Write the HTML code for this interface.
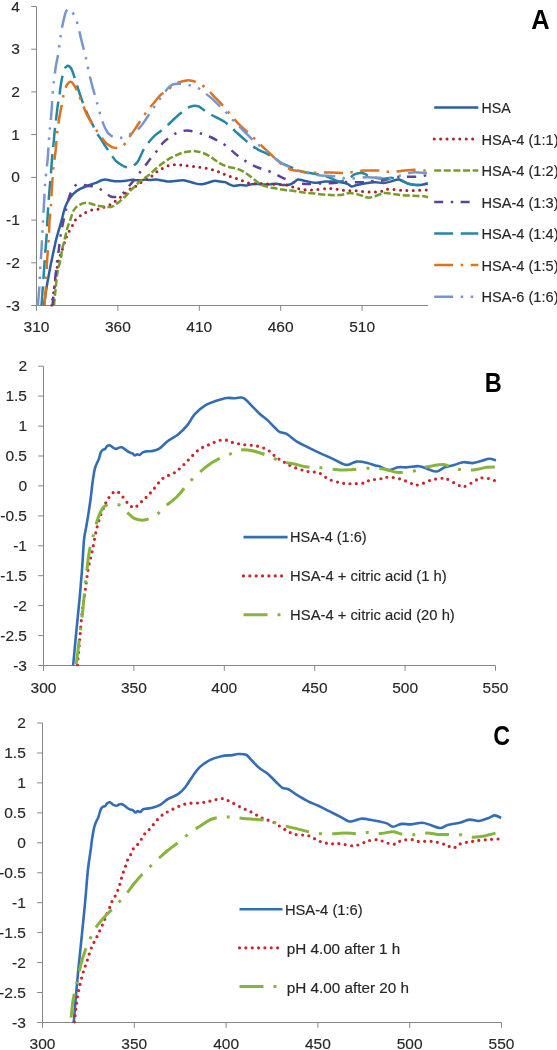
<!DOCTYPE html>
<html><head><meta charset="utf-8"><style>
html,body{margin:0;padding:0;background:#fff;width:557px;height:1050px;overflow:hidden}
svg{display:block;will-change:transform;font-family:"Liberation Sans",sans-serif}
</style></head><body>
<svg width="557" height="1050" viewBox="0 0 557 1050">
<defs>
<clipPath id="cA"><rect x="30" y="0" width="400" height="306.5"/></clipPath>
<clipPath id="cB"><rect x="40" y="360" width="460" height="306.5"/></clipPath>
<clipPath id="cC"><rect x="40" y="715" width="465" height="308.5"/></clipPath>
</defs>
<path d="M36.5 6.5 V305.5 H428.0" fill="none" stroke="#878787" stroke-width="1"/>
<line x1="31.2" y1="6.5" x2="36.5" y2="6.5" stroke="#878787" stroke-width="1"/>
<line x1="31.2" y1="49.2" x2="36.5" y2="49.2" stroke="#878787" stroke-width="1"/>
<line x1="31.2" y1="91.9" x2="36.5" y2="91.9" stroke="#878787" stroke-width="1"/>
<line x1="31.2" y1="134.6" x2="36.5" y2="134.6" stroke="#878787" stroke-width="1"/>
<line x1="31.2" y1="177.4" x2="36.5" y2="177.4" stroke="#878787" stroke-width="1"/>
<line x1="31.2" y1="220.1" x2="36.5" y2="220.1" stroke="#878787" stroke-width="1"/>
<line x1="31.2" y1="262.8" x2="36.5" y2="262.8" stroke="#878787" stroke-width="1"/>
<line x1="31.2" y1="305.5" x2="36.5" y2="305.5" stroke="#878787" stroke-width="1"/>
<line x1="36.5" y1="305.5" x2="36.5" y2="310.8" stroke="#878787" stroke-width="1"/>
<line x1="117.9" y1="305.5" x2="117.9" y2="310.8" stroke="#878787" stroke-width="1"/>
<line x1="199.3" y1="305.5" x2="199.3" y2="310.8" stroke="#878787" stroke-width="1"/>
<line x1="280.7" y1="305.5" x2="280.7" y2="310.8" stroke="#878787" stroke-width="1"/>
<line x1="362.1" y1="305.5" x2="362.1" y2="310.8" stroke="#878787" stroke-width="1"/>
<text x="19.9" y="11.5" text-anchor="end" font-size="15.5" fill="#262626" stroke="#262626" stroke-width="0.15">4</text>
<text x="19.9" y="54.2" text-anchor="end" font-size="15.5" fill="#262626" stroke="#262626" stroke-width="0.15">3</text>
<text x="19.9" y="96.9" text-anchor="end" font-size="15.5" fill="#262626" stroke="#262626" stroke-width="0.15">2</text>
<text x="19.9" y="139.6" text-anchor="end" font-size="15.5" fill="#262626" stroke="#262626" stroke-width="0.15">1</text>
<text x="19.9" y="182.4" text-anchor="end" font-size="15.5" fill="#262626" stroke="#262626" stroke-width="0.15">0</text>
<text x="19.9" y="225.1" text-anchor="end" font-size="15.5" fill="#262626" stroke="#262626" stroke-width="0.15">-1</text>
<text x="19.9" y="267.8" text-anchor="end" font-size="15.5" fill="#262626" stroke="#262626" stroke-width="0.15">-2</text>
<text x="19.9" y="310.5" text-anchor="end" font-size="15.5" fill="#262626" stroke="#262626" stroke-width="0.15">-3</text>
<text x="36.5" y="331.5" text-anchor="middle" font-size="15.5" fill="#262626" stroke="#262626" stroke-width="0.15">310</text>
<text x="117.9" y="331.5" text-anchor="middle" font-size="15.5" fill="#262626" stroke="#262626" stroke-width="0.15">360</text>
<text x="199.3" y="331.5" text-anchor="middle" font-size="15.5" fill="#262626" stroke="#262626" stroke-width="0.15">410</text>
<text x="280.7" y="331.5" text-anchor="middle" font-size="15.5" fill="#262626" stroke="#262626" stroke-width="0.15">460</text>
<text x="362.1" y="331.5" text-anchor="middle" font-size="15.5" fill="#262626" stroke="#262626" stroke-width="0.15">510</text>
<path d="M43.5 366.2 V665.5 H495.5" fill="none" stroke="#878787" stroke-width="1"/>
<line x1="38.2" y1="366.2" x2="43.5" y2="366.2" stroke="#878787" stroke-width="1"/>
<line x1="38.2" y1="396.1" x2="43.5" y2="396.1" stroke="#878787" stroke-width="1"/>
<line x1="38.2" y1="426.1" x2="43.5" y2="426.1" stroke="#878787" stroke-width="1"/>
<line x1="38.2" y1="456.0" x2="43.5" y2="456.0" stroke="#878787" stroke-width="1"/>
<line x1="38.2" y1="485.9" x2="43.5" y2="485.9" stroke="#878787" stroke-width="1"/>
<line x1="38.2" y1="515.9" x2="43.5" y2="515.9" stroke="#878787" stroke-width="1"/>
<line x1="38.2" y1="545.8" x2="43.5" y2="545.8" stroke="#878787" stroke-width="1"/>
<line x1="38.2" y1="575.7" x2="43.5" y2="575.7" stroke="#878787" stroke-width="1"/>
<line x1="38.2" y1="605.6" x2="43.5" y2="605.6" stroke="#878787" stroke-width="1"/>
<line x1="38.2" y1="635.6" x2="43.5" y2="635.6" stroke="#878787" stroke-width="1"/>
<line x1="38.2" y1="665.5" x2="43.5" y2="665.5" stroke="#878787" stroke-width="1"/>
<line x1="43.5" y1="665.5" x2="43.5" y2="670.8" stroke="#878787" stroke-width="1"/>
<line x1="133.9" y1="665.5" x2="133.9" y2="670.8" stroke="#878787" stroke-width="1"/>
<line x1="224.3" y1="665.5" x2="224.3" y2="670.8" stroke="#878787" stroke-width="1"/>
<line x1="314.7" y1="665.5" x2="314.7" y2="670.8" stroke="#878787" stroke-width="1"/>
<line x1="405.1" y1="665.5" x2="405.1" y2="670.8" stroke="#878787" stroke-width="1"/>
<line x1="495.5" y1="665.5" x2="495.5" y2="670.8" stroke="#878787" stroke-width="1"/>
<text x="27.0" y="371.2" text-anchor="end" font-size="15.5" fill="#262626" stroke="#262626" stroke-width="0.15">2</text>
<text x="27.0" y="401.1" text-anchor="end" font-size="15.5" fill="#262626" stroke="#262626" stroke-width="0.15">1.5</text>
<text x="27.0" y="431.1" text-anchor="end" font-size="15.5" fill="#262626" stroke="#262626" stroke-width="0.15">1</text>
<text x="27.0" y="461.0" text-anchor="end" font-size="15.5" fill="#262626" stroke="#262626" stroke-width="0.15">0.5</text>
<text x="27.0" y="490.9" text-anchor="end" font-size="15.5" fill="#262626" stroke="#262626" stroke-width="0.15">0</text>
<text x="27.0" y="520.9" text-anchor="end" font-size="15.5" fill="#262626" stroke="#262626" stroke-width="0.15">-0.5</text>
<text x="27.0" y="550.8" text-anchor="end" font-size="15.5" fill="#262626" stroke="#262626" stroke-width="0.15">-1</text>
<text x="27.0" y="580.7" text-anchor="end" font-size="15.5" fill="#262626" stroke="#262626" stroke-width="0.15">-1.5</text>
<text x="27.0" y="610.6" text-anchor="end" font-size="15.5" fill="#262626" stroke="#262626" stroke-width="0.15">-2</text>
<text x="27.0" y="640.6" text-anchor="end" font-size="15.5" fill="#262626" stroke="#262626" stroke-width="0.15">-2.5</text>
<text x="27.0" y="670.5" text-anchor="end" font-size="15.5" fill="#262626" stroke="#262626" stroke-width="0.15">-3</text>
<text x="43.5" y="692.8" text-anchor="middle" font-size="15.5" fill="#262626" stroke="#262626" stroke-width="0.15">300</text>
<text x="133.9" y="692.8" text-anchor="middle" font-size="15.5" fill="#262626" stroke="#262626" stroke-width="0.15">350</text>
<text x="224.3" y="692.8" text-anchor="middle" font-size="15.5" fill="#262626" stroke="#262626" stroke-width="0.15">400</text>
<text x="314.7" y="692.8" text-anchor="middle" font-size="15.5" fill="#262626" stroke="#262626" stroke-width="0.15">450</text>
<text x="405.1" y="692.8" text-anchor="middle" font-size="15.5" fill="#262626" stroke="#262626" stroke-width="0.15">500</text>
<text x="495.5" y="692.8" text-anchor="middle" font-size="15.5" fill="#262626" stroke="#262626" stroke-width="0.15">550</text>
<path d="M42.5 723.0 V1022.5 H501.5" fill="none" stroke="#878787" stroke-width="1"/>
<line x1="37.2" y1="723.0" x2="42.5" y2="723.0" stroke="#878787" stroke-width="1"/>
<line x1="37.2" y1="753.0" x2="42.5" y2="753.0" stroke="#878787" stroke-width="1"/>
<line x1="37.2" y1="782.9" x2="42.5" y2="782.9" stroke="#878787" stroke-width="1"/>
<line x1="37.2" y1="812.9" x2="42.5" y2="812.9" stroke="#878787" stroke-width="1"/>
<line x1="37.2" y1="842.8" x2="42.5" y2="842.8" stroke="#878787" stroke-width="1"/>
<line x1="37.2" y1="872.8" x2="42.5" y2="872.8" stroke="#878787" stroke-width="1"/>
<line x1="37.2" y1="902.7" x2="42.5" y2="902.7" stroke="#878787" stroke-width="1"/>
<line x1="37.2" y1="932.6" x2="42.5" y2="932.6" stroke="#878787" stroke-width="1"/>
<line x1="37.2" y1="962.6" x2="42.5" y2="962.6" stroke="#878787" stroke-width="1"/>
<line x1="37.2" y1="992.5" x2="42.5" y2="992.5" stroke="#878787" stroke-width="1"/>
<line x1="37.2" y1="1022.5" x2="42.5" y2="1022.5" stroke="#878787" stroke-width="1"/>
<line x1="42.5" y1="1022.5" x2="42.5" y2="1027.8" stroke="#878787" stroke-width="1"/>
<line x1="134.3" y1="1022.5" x2="134.3" y2="1027.8" stroke="#878787" stroke-width="1"/>
<line x1="226.1" y1="1022.5" x2="226.1" y2="1027.8" stroke="#878787" stroke-width="1"/>
<line x1="317.9" y1="1022.5" x2="317.9" y2="1027.8" stroke="#878787" stroke-width="1"/>
<line x1="409.7" y1="1022.5" x2="409.7" y2="1027.8" stroke="#878787" stroke-width="1"/>
<line x1="501.5" y1="1022.5" x2="501.5" y2="1027.8" stroke="#878787" stroke-width="1"/>
<text x="25.8" y="728.0" text-anchor="end" font-size="15.5" fill="#262626" stroke="#262626" stroke-width="0.15">2</text>
<text x="25.8" y="758.0" text-anchor="end" font-size="15.5" fill="#262626" stroke="#262626" stroke-width="0.15">1.5</text>
<text x="25.8" y="787.9" text-anchor="end" font-size="15.5" fill="#262626" stroke="#262626" stroke-width="0.15">1</text>
<text x="25.8" y="817.9" text-anchor="end" font-size="15.5" fill="#262626" stroke="#262626" stroke-width="0.15">0.5</text>
<text x="25.8" y="847.8" text-anchor="end" font-size="15.5" fill="#262626" stroke="#262626" stroke-width="0.15">0</text>
<text x="25.8" y="877.8" text-anchor="end" font-size="15.5" fill="#262626" stroke="#262626" stroke-width="0.15">-0.5</text>
<text x="25.8" y="907.7" text-anchor="end" font-size="15.5" fill="#262626" stroke="#262626" stroke-width="0.15">-1</text>
<text x="25.8" y="937.6" text-anchor="end" font-size="15.5" fill="#262626" stroke="#262626" stroke-width="0.15">-1.5</text>
<text x="25.8" y="967.6" text-anchor="end" font-size="15.5" fill="#262626" stroke="#262626" stroke-width="0.15">-2</text>
<text x="25.8" y="997.5" text-anchor="end" font-size="15.5" fill="#262626" stroke="#262626" stroke-width="0.15">-2.5</text>
<text x="25.8" y="1027.5" text-anchor="end" font-size="15.5" fill="#262626" stroke="#262626" stroke-width="0.15">-3</text>
<text x="42.5" y="1049.2" text-anchor="middle" font-size="15.5" fill="#262626" stroke="#262626" stroke-width="0.15">300</text>
<text x="134.3" y="1049.2" text-anchor="middle" font-size="15.5" fill="#262626" stroke="#262626" stroke-width="0.15">350</text>
<text x="226.1" y="1049.2" text-anchor="middle" font-size="15.5" fill="#262626" stroke="#262626" stroke-width="0.15">400</text>
<text x="317.9" y="1049.2" text-anchor="middle" font-size="15.5" fill="#262626" stroke="#262626" stroke-width="0.15">450</text>
<text x="409.7" y="1049.2" text-anchor="middle" font-size="15.5" fill="#262626" stroke="#262626" stroke-width="0.15">500</text>
<text x="501.5" y="1049.2" text-anchor="middle" font-size="15.5" fill="#262626" stroke="#262626" stroke-width="0.15">550</text>
<path d="M43.9 305.5 C44.4 302.1 45.9 291.6 47.0 285.0 C48.1 278.4 49.7 270.4 50.5 266.0 C51.3 261.6 51.5 261.4 52.0 258.8 C52.5 256.2 53.1 253.3 53.8 250.2 C54.5 247.1 55.2 243.4 56.0 240.1 C56.8 236.8 57.8 233.4 58.8 230.1 C59.8 226.8 60.7 223.7 61.7 220.0 C62.7 216.3 63.8 211.1 65.0 207.7 C66.2 204.3 67.3 202.0 68.8 199.6 C70.3 197.2 71.9 195.1 73.8 193.3 C75.7 191.5 77.8 190.2 80.1 188.9 C82.4 187.6 85.1 186.6 87.6 185.7 C90.1 184.8 92.9 184.1 95.2 183.2 C97.5 182.3 99.8 180.9 101.5 180.3 C103.2 179.7 103.7 179.5 105.2 179.5 C106.7 179.5 108.4 180.1 110.3 180.4 C112.2 180.7 114.5 181.2 116.6 181.3 C118.7 181.4 121.0 181.2 122.8 181.1 C124.6 181.0 125.9 180.7 127.4 180.5 C128.9 180.3 130.4 179.8 131.9 179.7 C133.4 179.6 134.9 180.1 136.4 180.2 C137.9 180.3 139.4 180.3 140.9 180.2 C142.4 180.1 143.9 179.6 145.4 179.6 C146.9 179.6 148.2 180.1 150.0 180.1 C151.8 180.1 154.2 179.5 156.3 179.6 C158.4 179.7 160.5 180.2 162.6 180.5 C164.7 180.8 166.8 181.4 168.9 181.5 C171.0 181.6 172.8 181.1 175.1 180.9 C177.4 180.7 180.4 180.2 182.7 180.3 C185.0 180.4 186.9 181.0 189.0 181.5 C191.1 182.0 193.1 182.9 195.2 183.4 C197.3 183.9 199.4 184.4 201.5 184.3 C203.6 184.2 205.7 183.4 207.8 182.8 C209.9 182.2 212.1 181.1 214.1 180.9 C216.1 180.7 218.2 181.3 220.0 181.5 C221.8 181.7 223.3 181.6 225.0 182.1 C226.7 182.6 228.6 184.0 230.1 184.6 C231.6 185.2 232.1 185.8 233.8 185.9 C235.5 186.0 238.0 185.1 240.1 185.0 C242.2 184.9 244.5 185.6 246.4 185.5 C248.3 185.4 249.5 184.4 251.4 184.2 C253.3 183.9 255.6 183.9 257.7 184.0 C259.8 184.1 261.9 184.6 264.0 184.6 C266.1 184.6 268.2 184.3 270.3 184.2 C272.4 184.0 274.5 183.6 276.6 183.7 C278.7 183.8 280.6 184.9 282.8 185.0 C285.0 185.1 288.1 185.0 290.0 184.5 C291.9 184.0 293.1 182.8 294.5 182.0 C295.9 181.2 296.4 179.7 298.2 179.5 C300.0 179.3 302.7 180.4 305.4 180.9 C308.1 181.4 311.4 182.5 314.4 182.7 C317.4 182.8 320.8 182.0 323.4 181.8 C326.0 181.6 327.1 181.3 330.0 181.4 C332.9 181.5 337.8 181.9 340.8 182.3 C343.8 182.8 346.2 183.4 348.0 184.1 C349.8 184.8 350.0 186.3 351.5 186.5 C353.0 186.7 354.5 185.6 356.9 185.0 C359.3 184.4 362.9 183.6 365.9 183.2 C368.9 182.8 371.9 182.4 374.9 182.3 C377.9 182.2 381.2 183.1 383.9 182.9 C386.6 182.8 388.6 182.0 391.0 181.4 C393.4 180.8 396.1 179.6 398.2 179.6 C400.3 179.6 401.8 180.7 403.6 181.4 C405.4 182.2 406.9 183.5 409.0 184.1 C411.1 184.7 413.8 184.9 416.2 185.0 C418.6 185.1 421.4 184.8 423.4 184.5 C425.4 184.2 427.2 183.4 428.0 183.2" fill="none" stroke="#2A5FA0" stroke-width="2.5" stroke-linecap="butt" stroke-linejoin="round" clip-path="url(#cA)"/>
<path d="M51.8 305.5 C52.2 302.9 53.2 295.6 54.0 290.0 C54.8 284.4 55.7 277.1 56.5 272.0 C57.3 266.9 58.0 262.2 58.8 259.1 C59.5 256.0 60.0 256.3 61.0 253.4 C62.0 250.5 63.9 244.5 64.9 241.5 C65.9 238.5 66.2 237.4 67.1 235.4 C67.9 233.4 69.0 231.5 70.0 229.7 C71.0 227.8 72.2 226.1 73.2 224.3 C74.2 222.5 74.8 220.6 76.3 219.0 C77.8 217.4 80.2 215.8 82.0 214.6 C83.8 213.4 85.1 212.6 87.0 211.8 C88.9 211.0 91.2 210.1 93.3 209.6 C95.4 209.1 97.6 209.5 99.6 209.0 C101.6 208.5 103.3 207.4 105.3 206.6 C107.2 205.8 109.5 205.0 111.3 204.0 C113.1 203.0 114.5 201.7 116.2 200.4 C117.9 199.1 119.9 197.8 121.6 196.4 C123.3 195.1 124.8 193.7 126.5 192.3 C128.2 190.9 129.8 188.9 131.5 187.8 C133.2 186.7 135.1 186.7 136.9 185.6 C138.7 184.5 140.4 182.7 142.3 181.5 C144.2 180.3 146.3 179.5 148.1 178.4 C149.9 177.3 151.4 176.5 153.1 175.2 C154.8 173.9 156.4 172.1 158.2 170.8 C160.0 169.6 161.9 168.6 163.8 167.7 C165.7 166.8 167.5 165.9 169.5 165.4 C171.5 164.9 173.7 164.6 175.8 164.6 C177.9 164.6 179.9 165.0 182.0 165.2 C184.1 165.4 186.1 165.6 188.3 165.8 C190.5 166.1 193.0 166.4 195.2 166.7 C197.4 167.0 199.4 167.2 201.5 167.5 C203.6 167.8 205.7 168.2 207.8 168.7 C209.9 169.1 212.1 169.6 214.1 170.2 C216.1 170.8 218.1 171.6 220.0 172.4 C221.9 173.2 223.7 174.1 225.7 174.9 C227.7 175.7 229.8 176.4 231.9 177.1 C234.0 177.8 236.2 178.5 238.2 179.2 C240.2 179.9 241.9 180.5 243.9 181.2 C245.9 181.9 248.1 183.0 250.2 183.4 C252.3 183.8 254.3 183.7 256.4 183.7 C258.5 183.7 260.6 183.3 262.7 183.4 C264.8 183.5 266.9 183.9 269.0 184.0 C271.1 184.1 273.1 184.1 275.3 184.2 C277.5 184.3 280.0 184.4 282.2 184.6 C284.4 184.8 286.5 184.7 288.5 185.2 C290.5 185.7 292.1 186.9 294.0 187.5 C295.9 188.1 297.2 188.6 300.0 189.0 C302.8 189.4 305.8 190.0 310.8 189.9 C315.8 189.8 324.4 188.5 330.0 188.6 C335.6 188.7 339.9 190.0 344.4 190.4 C348.9 190.8 352.4 190.6 356.9 190.9 C361.4 191.2 367.1 192.1 371.3 192.2 C375.5 192.3 379.1 191.8 382.1 191.3 C385.1 190.8 385.9 189.2 389.2 189.1 C392.5 188.9 397.6 190.2 401.8 190.4 C406.0 190.6 410.0 190.5 414.4 190.4 C418.8 190.3 425.7 190.0 428.0 189.9" fill="none" stroke="#A82428" stroke-width="3.0" stroke-linecap="round" stroke-linejoin="round" stroke-dasharray="0 6.4" clip-path="url(#cA)"/>
<path d="M54.0 305.5 C54.2 302.9 54.9 295.6 55.5 290.0 C56.1 284.4 56.6 277.3 57.5 272.0 C58.4 266.7 60.3 261.4 61.0 258.0 C61.7 254.6 61.4 253.5 61.7 251.6 C62.0 249.7 62.4 248.3 62.8 246.6 C63.2 244.9 63.9 242.9 64.2 241.5 C64.6 240.1 64.5 239.6 64.9 238.0 C65.3 236.4 66.0 233.9 66.4 232.2 C66.8 230.5 66.8 229.8 67.4 227.9 C68.0 226.0 68.9 223.6 70.0 220.7 C71.1 217.8 72.3 212.8 73.8 210.2 C75.3 207.6 76.8 206.4 78.9 205.2 C81.0 203.9 83.9 202.8 86.4 202.7 C88.9 202.6 91.8 204.0 93.9 204.6 C96.0 205.2 97.2 205.7 99.0 206.0 C100.8 206.3 103.0 206.5 105.0 206.7 C107.0 206.9 109.6 207.3 111.3 207.0 C113.0 206.7 113.6 205.8 114.9 204.9 C116.2 204.0 118.1 202.8 119.4 201.7 C120.7 200.6 121.3 199.7 122.5 198.6 C123.7 197.5 125.2 196.6 126.5 195.3 C127.8 194.0 129.0 191.9 130.0 190.8 C131.0 189.7 131.5 189.5 132.4 188.7 C133.3 187.9 134.4 187.1 135.5 186.0 C136.6 184.9 137.9 183.1 139.1 182.0 C140.3 180.9 141.3 180.3 142.7 179.3 C144.0 178.3 145.8 177.2 147.2 176.2 C148.5 175.2 149.3 174.8 150.8 173.5 C152.3 172.2 154.3 170.0 156.3 168.3 C158.3 166.6 160.5 164.9 162.6 163.3 C164.7 161.7 166.8 160.2 168.9 158.9 C171.0 157.7 172.8 156.9 175.1 155.8 C177.4 154.8 180.0 153.4 182.7 152.6 C185.4 151.8 189.2 151.3 191.5 151.1 C193.8 150.9 194.6 151.1 196.5 151.4 C198.4 151.7 200.7 152.2 202.8 152.9 C204.9 153.6 207.0 154.6 209.1 155.8 C211.2 157.0 213.6 158.9 215.4 160.2 C217.2 161.4 218.0 162.2 220.0 163.3 C222.0 164.4 224.6 165.7 227.5 166.6 C230.4 167.5 234.7 167.9 237.6 168.9 C240.5 169.9 242.6 171.1 245.1 172.7 C247.6 174.3 250.4 176.5 252.7 178.3 C255.0 180.1 257.1 182.1 259.0 183.4 C260.9 184.7 261.9 185.2 264.0 185.9 C266.1 186.6 269.0 187.3 271.5 187.8 C274.0 188.3 276.6 188.6 279.1 189.0 C281.6 189.4 284.6 190.1 286.6 190.3 C288.6 190.6 288.5 190.2 291.0 190.5 C293.5 190.8 297.9 191.7 301.8 192.2 C305.7 192.7 309.7 193.0 314.4 193.5 C319.1 194.0 325.6 194.8 330.0 195.0 C334.4 195.2 337.5 195.2 340.8 194.9 C344.1 194.6 346.4 193.1 349.7 193.1 C353.0 193.1 357.5 194.4 360.5 195.2 C363.5 195.9 365.3 197.4 367.7 197.6 C370.1 197.8 372.2 197.1 374.9 196.3 C377.6 195.6 380.9 193.5 383.9 193.1 C386.9 192.7 389.8 193.7 392.8 194.0 C395.8 194.3 398.5 194.9 401.8 195.2 C405.1 195.5 409.0 195.6 412.6 195.8 C416.2 196.0 420.8 196.1 423.4 196.3 C426.0 196.6 427.2 197.1 428.0 197.3" fill="none" stroke="#789B2A" stroke-width="2.5" stroke-linecap="butt" stroke-linejoin="round" stroke-dasharray="7 2.6" clip-path="url(#cA)"/>
<path d="M52.5 305.5 C52.8 302.1 53.7 292.8 54.5 285.0 C55.3 277.2 56.7 264.9 57.4 259.0 C58.1 253.1 58.4 252.8 58.8 249.8 C59.2 246.8 59.5 243.6 59.9 240.8 C60.3 238.1 60.5 236.1 61.0 233.3 C61.5 230.5 62.0 227.6 62.8 224.0 C63.5 220.4 64.5 216.3 65.5 212.0 C66.5 207.7 67.6 202.2 68.8 198.3 C70.0 194.5 71.2 191.2 72.6 188.9 C74.0 186.6 75.4 185.2 77.0 184.5 C78.6 183.8 80.3 184.4 82.0 184.6 C83.7 184.8 84.6 185.3 87.0 185.7 C89.4 186.1 93.8 186.2 96.4 187.0 C99.0 187.8 100.4 189.2 102.7 190.8 C105.0 192.4 108.4 195.3 110.4 196.3 C112.5 197.3 113.5 197.0 115.0 197.0 C116.5 197.0 117.7 197.4 119.4 196.4 C121.1 195.4 123.8 192.5 125.2 191.0 C126.6 189.5 127.0 188.7 128.0 187.5 C129.0 186.3 129.5 185.6 131.0 183.8 C132.5 182.0 135.2 178.8 136.9 176.6 C138.6 174.3 139.7 172.6 141.4 170.3 C143.1 168.1 145.3 165.5 147.2 163.1 C149.0 160.7 150.7 158.1 152.5 155.8 C154.3 153.5 156.4 151.7 158.2 149.5 C160.0 147.3 161.2 144.7 163.2 142.6 C165.2 140.5 167.7 138.6 170.1 136.9 C172.5 135.2 174.9 133.6 177.6 132.5 C180.3 131.4 183.5 130.7 186.4 130.6 C189.3 130.5 192.4 131.3 195.2 131.9 C198.0 132.5 200.7 133.5 203.4 134.4 C206.1 135.3 208.8 136.2 211.6 137.5 C214.4 138.8 217.8 140.9 220.0 142.2 C222.2 143.4 222.8 143.4 225.0 145.0 C227.2 146.6 230.7 149.8 233.2 151.9 C235.7 154.0 237.8 155.9 240.1 157.6 C242.4 159.3 244.5 160.5 247.0 162.0 C249.5 163.5 252.5 165.2 255.2 166.4 C257.9 167.7 260.8 168.6 263.4 169.5 C266.0 170.4 268.2 170.8 270.9 172.0 C273.6 173.2 276.9 175.0 279.7 176.4 C282.5 177.8 285.3 179.1 287.9 180.2 C290.4 181.3 292.1 182.2 295.0 182.8 C297.9 183.4 301.6 183.9 305.4 184.0 C309.2 184.1 313.9 183.7 318.0 183.6 C322.1 183.5 326.5 183.3 330.0 183.2 C333.5 183.0 336.3 182.9 339.0 182.7 C341.7 182.5 341.7 182.1 346.2 182.0 C350.7 181.9 361.4 182.5 365.9 182.3 C370.4 182.1 370.4 181.2 373.1 180.9 C375.8 180.6 378.8 181.0 382.1 180.5 C385.4 180.0 389.8 178.4 392.8 177.8 C395.8 177.2 395.8 177.1 400.0 176.9 C404.2 176.7 413.3 176.9 418.0 176.6 C422.7 176.3 426.3 175.3 428.0 175.0" fill="none" stroke="#5F4196" stroke-width="2.5" stroke-linecap="butt" stroke-linejoin="round" stroke-dasharray="9 7.6 2.4 7.4" clip-path="url(#cA)"/>
<path d="M41.5 305.5 C41.8 302.1 42.5 291.6 43.0 285.0 C43.5 278.4 43.9 271.5 44.3 266.2 C44.7 260.9 44.8 258.4 45.2 253.4 C45.6 248.4 46.3 240.6 46.6 236.2 C46.9 231.8 46.8 231.6 47.0 227.2 C47.2 222.8 47.6 216.4 48.0 210.0 C48.4 203.6 49.1 194.7 49.6 188.7 C50.1 182.7 50.5 179.1 50.9 173.9 C51.3 168.8 51.7 162.4 52.1 157.8 C52.5 153.2 52.9 150.9 53.3 146.6 C53.7 142.3 54.2 135.9 54.6 131.8 C55.0 127.7 55.3 126.2 55.8 121.9 C56.3 117.6 57.1 110.3 57.7 105.8 C58.3 101.3 59.0 98.2 59.5 94.7 C60.0 91.2 60.4 87.6 60.8 85.0 C61.2 82.4 61.3 81.7 61.8 79.2 C62.3 76.7 63.3 71.8 64.0 69.8 C64.7 67.8 65.3 67.7 66.0 67.0 C66.7 66.3 67.2 65.5 68.1 65.8 C69.0 66.0 70.2 66.9 71.2 68.5 C72.2 70.1 73.0 73.0 73.9 75.6 C74.8 78.2 75.7 81.4 76.6 84.2 C77.5 87.0 78.4 89.8 79.3 92.5 C80.2 95.2 81.0 97.5 82.0 100.3 C83.0 103.1 84.5 107.2 85.4 109.4 C86.3 111.6 86.1 111.2 87.2 113.5 C88.3 115.8 90.2 119.8 91.8 123.0 C93.4 126.2 95.1 130.2 96.6 132.8 C98.1 135.4 99.0 136.2 100.6 138.6 C102.2 141.0 104.1 144.3 106.0 147.1 C107.9 149.9 110.2 153.2 111.8 155.5 C113.4 157.8 114.3 159.4 115.8 160.9 C117.3 162.4 119.4 163.6 120.8 164.5 C122.2 165.4 122.8 165.9 123.9 166.3 C125.0 166.8 126.2 167.1 127.5 167.2 C128.8 167.3 130.7 167.1 131.9 166.7 C133.2 166.2 133.9 165.5 135.0 164.5 C136.1 163.5 136.7 163.5 138.2 160.9 C139.7 158.3 142.0 152.3 144.0 149.0 C146.0 145.7 148.2 143.0 150.0 140.8 C151.8 138.6 153.0 137.3 154.5 135.9 C156.0 134.5 156.9 134.0 158.8 132.5 C160.7 131.0 163.4 128.9 165.7 126.9 C168.0 124.9 170.3 122.6 172.4 120.6 C174.5 118.6 176.3 116.8 178.5 115.0 C180.7 113.2 183.3 110.9 185.3 109.5 C187.3 108.1 188.9 107.3 190.4 106.7 C191.9 106.1 193.1 105.8 194.6 105.8 C196.1 105.8 198.3 106.3 199.4 106.7 C200.5 107.1 199.8 107.2 201.4 108.3 C203.0 109.4 206.4 111.8 209.0 113.4 C211.6 115.0 214.4 116.4 216.9 117.7 C219.4 119.0 221.8 120.0 224.1 121.5 C226.4 123.0 228.5 125.1 230.7 127.0 C232.9 128.9 235.0 131.0 237.2 133.0 C239.4 135.0 241.4 136.8 243.7 138.8 C246.0 140.8 248.4 143.0 250.8 144.8 C253.2 146.6 255.5 148.2 258.0 149.6 C260.5 151.0 263.0 151.6 265.9 153.2 C268.8 154.8 272.8 157.3 275.3 158.9 C277.8 160.5 278.9 161.6 281.0 162.8 C283.1 164.0 285.5 165.0 287.9 166.0 C290.3 167.0 292.9 167.9 295.4 168.9 C297.8 169.9 299.7 171.0 302.6 171.8 C305.5 172.6 309.4 173.0 312.6 173.5 C315.8 174.0 319.1 174.3 322.0 175.0 C324.9 175.7 327.2 176.7 330.0 177.8 C332.8 178.9 336.0 181.2 339.0 181.4 C342.0 181.6 345.3 179.9 348.0 178.7 C350.7 177.5 352.7 175.1 355.1 174.2 C357.5 173.2 359.6 172.6 362.3 173.0 C365.0 173.4 367.7 176.0 371.3 176.9 C374.9 177.8 380.6 178.5 383.9 178.7 C387.2 178.8 388.6 177.7 391.0 177.8 C393.4 178.0 395.5 178.7 398.2 179.6 C400.9 180.5 404.2 182.3 407.2 183.2 C410.2 184.1 413.2 184.8 416.2 185.0 C419.2 185.2 423.2 184.3 425.2 184.1 C427.2 183.9 427.5 184.0 428.0 184.0" fill="none" stroke="#2387A5" stroke-width="2.5" stroke-linecap="butt" stroke-linejoin="round" stroke-dasharray="19 7.5" clip-path="url(#cA)"/>
<path d="M44.6 305.5 C44.8 302.1 45.6 291.6 46.0 285.0 C46.4 278.4 46.6 270.8 46.8 266.2 C47.0 261.6 47.0 262.0 47.3 257.7 C47.6 253.4 48.3 244.9 48.6 240.5 C48.9 236.1 49.0 234.3 49.1 231.1 C49.2 227.9 49.2 225.4 49.5 221.1 C49.8 216.8 50.6 211.0 51.0 205.0 C51.4 199.0 51.7 191.0 52.1 185.0 C52.5 179.0 52.9 173.2 53.3 168.9 C53.7 164.6 54.2 162.3 54.6 159.0 C55.0 155.7 55.4 153.2 55.8 149.1 C56.2 145.0 56.6 138.4 57.0 134.3 C57.4 130.2 57.8 127.9 58.3 124.4 C58.8 120.9 59.5 116.4 60.1 113.2 C60.7 110.0 61.3 107.7 61.8 105.0 C62.3 102.3 62.5 100.0 63.1 97.2 C63.7 94.4 64.7 90.6 65.4 88.4 C66.1 86.2 66.7 85.1 67.5 84.0 C68.3 82.9 69.5 82.0 70.3 81.8 C71.1 81.6 71.8 82.2 72.5 83.0 C73.2 83.8 74.0 85.1 74.8 86.4 C75.5 87.7 76.2 89.2 77.0 90.8 C77.8 92.4 78.3 93.9 79.3 96.3 C80.3 98.7 81.9 102.5 83.1 105.4 C84.3 108.3 85.0 110.8 86.3 113.5 C87.6 116.2 89.2 118.9 90.8 121.5 C92.4 124.1 94.0 126.7 95.7 129.2 C97.4 131.7 99.3 134.2 101.1 136.6 C102.9 139.0 104.6 141.8 106.5 143.5 C108.4 145.2 110.4 146.3 112.3 147.1 C114.2 147.8 116.1 148.1 117.7 148.0 C119.3 147.9 120.5 147.4 121.7 146.7 C122.9 145.9 123.9 144.9 125.0 143.5 C126.1 142.1 126.6 140.9 128.3 138.5 C130.0 136.1 132.9 132.1 135.1 128.9 C137.3 125.7 139.3 122.4 141.5 119.2 C143.7 116.0 145.7 113.0 148.0 110.0 C150.3 107.0 153.4 103.4 155.5 100.9 C157.6 98.4 158.9 96.5 160.5 95.0 C162.1 93.5 163.8 92.7 165.0 92.0 C166.2 91.3 166.2 91.8 167.5 90.7 C168.8 89.6 170.9 86.8 172.5 85.5 C174.1 84.2 175.3 83.7 177.0 83.0 C178.7 82.3 180.4 81.6 182.6 81.2 C184.8 80.8 187.4 80.1 190.1 80.4 C192.8 80.7 196.1 81.8 198.9 83.2 C201.7 84.7 204.7 87.0 207.1 89.1 C209.5 91.2 211.4 93.7 213.4 95.8 C215.4 97.9 217.0 99.4 219.0 101.5 C221.0 103.6 223.3 106.0 225.3 108.3 C227.3 110.6 229.0 113.0 231.0 115.3 C233.0 117.6 235.1 120.1 237.2 122.3 C239.3 124.5 241.5 126.7 243.7 128.7 C245.8 130.7 247.9 132.5 250.1 134.5 C252.3 136.5 254.7 138.7 256.9 140.9 C259.1 143.1 261.5 145.7 263.4 147.5 C265.3 149.3 266.5 150.2 268.1 151.7 C269.7 153.2 271.2 154.8 272.8 156.3 C274.4 157.9 275.8 159.5 277.5 161.0 C279.2 162.5 280.5 163.7 282.8 165.1 C285.1 166.5 288.3 168.7 291.1 169.7 C293.9 170.7 297.0 170.6 299.7 171.1 C302.4 171.6 304.4 172.2 307.2 172.5 C309.9 172.8 312.4 172.8 316.2 172.8 C320.0 172.8 325.3 172.4 330.0 172.4 C334.7 172.4 340.5 173.1 344.4 173.0 C348.3 172.9 350.0 172.3 353.3 171.9 C356.6 171.5 359.6 170.8 364.1 170.6 C368.6 170.4 376.1 170.4 380.3 170.6 C384.5 170.8 385.9 171.8 389.2 171.9 C392.5 172.0 395.8 171.6 400.0 171.2 C404.2 170.8 410.2 169.8 414.4 169.7 C418.6 169.6 422.9 170.4 425.2 170.6 C427.5 170.8 427.5 170.9 428.0 171.0" fill="none" stroke="#DC731E" stroke-width="2.5" stroke-linecap="butt" stroke-linejoin="round" stroke-dasharray="19 7.5 2.5 7.5" clip-path="url(#cA)"/>
<path d="M37.8 305.5 C38.1 302.1 39.1 291.6 39.5 285.0 C39.9 278.4 40.0 270.8 40.3 266.2 C40.5 261.6 40.8 260.3 41.0 257.3 C41.2 254.3 41.4 251.1 41.6 248.0 C41.8 244.9 41.8 243.4 42.0 239.0 C42.2 234.6 42.6 227.9 43.0 221.4 C43.4 214.9 43.9 205.4 44.2 200.0 C44.5 194.6 44.5 192.4 44.7 188.7 C45.0 185.0 45.3 181.3 45.7 177.6 C46.1 173.9 46.5 169.7 46.9 166.4 C47.2 163.1 47.5 160.9 47.8 157.8 C48.0 154.7 48.1 152.2 48.4 147.9 C48.7 143.6 49.2 136.1 49.6 131.8 C50.0 127.5 50.3 125.2 50.6 121.9 C50.9 118.6 51.2 115.3 51.5 112.0 C51.8 108.7 51.8 106.4 52.1 102.1 C52.4 97.8 52.9 90.3 53.3 86.0 C53.7 81.7 54.2 79.4 54.6 76.1 C55.0 72.8 55.3 69.3 55.8 66.2 C56.3 63.1 56.9 61.5 57.6 57.2 C58.3 52.9 59.5 44.6 60.1 40.2 C60.7 35.8 60.9 33.9 61.4 30.8 C61.9 27.7 62.6 24.8 63.3 21.6 C64.0 18.5 64.9 14.0 65.8 11.9 C66.7 9.8 68.0 9.1 68.9 8.8 C69.8 8.5 70.6 9.2 71.3 10.0 C72.0 10.8 72.5 12.4 73.3 13.8 C74.0 15.2 75.0 16.0 75.8 18.2 C76.6 20.4 77.5 24.0 78.3 27.0 C79.1 30.0 79.8 33.4 80.5 36.4 C81.2 39.4 81.9 42.1 82.7 45.2 C83.5 48.3 84.4 52.2 85.1 55.0 C85.8 57.8 86.3 59.4 86.9 62.2 C87.5 65.0 88.0 68.5 88.7 71.6 C89.4 74.7 90.2 78.0 91.0 81.0 C91.8 84.0 92.3 86.4 93.2 89.6 C94.1 92.8 95.4 97.2 96.2 100.0 C97.0 102.8 97.3 103.7 98.0 106.3 C98.7 108.9 99.7 112.7 100.6 115.7 C101.5 118.7 102.4 121.6 103.5 124.4 C104.6 127.2 106.1 130.4 107.4 132.3 C108.7 134.2 110.0 135.0 111.4 135.9 C112.8 136.8 114.5 137.3 115.9 137.7 C117.3 138.0 118.8 138.1 120.0 138.0 C121.2 137.9 121.9 137.7 123.1 137.3 C124.3 136.9 125.5 136.5 127.0 135.8 C128.4 135.1 129.7 134.5 131.8 133.2 C133.9 131.9 137.1 130.2 139.4 127.9 C141.8 125.6 143.8 122.3 145.9 119.2 C148.1 116.1 150.0 112.9 152.3 109.5 C154.6 106.1 157.6 102.0 159.9 98.8 C162.2 95.6 164.3 92.5 166.3 90.2 C168.3 87.9 169.6 85.9 171.9 84.8 C174.2 83.7 177.3 83.8 180.1 83.8 C182.9 83.8 186.0 84.4 188.9 85.1 C191.8 85.8 195.0 86.4 197.7 87.8 C200.4 89.2 202.7 91.3 205.2 93.2 C207.7 95.1 210.3 97.2 212.5 99.2 C214.7 101.2 216.5 103.1 218.5 105.0 C220.5 106.9 222.6 108.6 224.7 110.8 C226.8 113.0 228.8 115.6 231.0 118.0 C233.2 120.4 235.6 122.7 237.9 125.1 C240.2 127.5 242.9 130.1 245.1 132.3 C247.3 134.5 249.0 136.3 250.9 138.1 C252.8 139.9 254.1 141.2 256.4 143.1 C258.7 145.0 261.8 147.4 264.5 149.6 C267.2 151.8 270.2 154.2 272.4 156.0 C274.6 157.8 275.9 159.3 277.8 160.7 C279.7 162.1 282.0 163.4 284.0 164.5 C286.0 165.6 288.2 166.2 290.0 167.0 C291.8 167.8 292.9 168.7 295.0 169.5 C297.1 170.3 299.8 171.1 302.6 171.8 C305.4 172.6 308.9 173.4 312.0 174.0 C315.1 174.6 318.0 175.2 321.0 175.5 C324.0 175.8 327.0 175.8 330.0 176.0 C333.0 176.2 336.0 176.2 339.0 176.6 C342.0 177.0 343.5 178.6 348.0 178.7 C352.5 178.8 360.5 177.5 365.9 177.3 C371.3 177.2 376.4 177.6 380.3 177.8 C384.2 178.0 385.6 179.1 389.2 178.7 C392.8 178.2 397.9 176.1 401.8 175.1 C405.7 174.1 408.7 172.8 412.6 172.4 C416.5 172.1 422.6 172.9 425.2 173.0 C427.8 173.1 427.5 173.0 428.0 173.0" fill="none" stroke="#7896CD" stroke-width="2.5" stroke-linecap="butt" stroke-linejoin="round" stroke-dasharray="19 7.5 2.5 7.5 2.5 7.5" clip-path="url(#cA)"/>
<path d="M73.1 665.5 C73.2 664.5 73.2 665.2 73.7 659.6 C74.2 654.0 75.3 641.7 76.3 631.6 C77.3 621.5 78.5 609.6 79.5 599.3 C80.5 589.0 81.2 579.9 82.0 570.0 C82.8 560.1 83.3 547.2 84.0 540.0 C84.7 532.8 85.5 531.3 86.3 526.5 C87.1 521.7 88.0 516.6 88.8 511.4 C89.6 506.1 90.5 499.9 91.1 495.0 C91.7 490.1 92.0 486.1 92.6 482.0 C93.2 477.9 93.9 473.1 94.5 470.2 C95.1 467.3 95.6 466.5 96.3 464.6 C97.0 462.7 98.2 460.9 98.9 458.9 C99.6 456.9 100.1 454.1 100.7 452.6 C101.3 451.1 101.9 450.5 102.6 449.9 C103.3 449.3 104.4 449.5 105.1 448.9 C105.8 448.3 106.3 446.9 107.0 446.3 C107.7 445.7 108.8 445.3 109.5 445.3 C110.2 445.3 110.7 445.8 111.4 446.3 C112.1 446.8 113.1 447.8 113.9 448.2 C114.7 448.6 115.6 449.0 116.4 448.9 C117.2 448.8 118.2 447.9 119.0 447.6 C119.8 447.3 120.7 447.1 121.5 447.3 C122.3 447.5 123.0 447.9 124.0 448.6 C125.0 449.3 126.8 450.7 127.8 451.4 C128.8 452.1 129.5 452.2 130.3 452.6 C131.1 453.0 132.1 453.1 132.8 453.6 C133.5 454.1 134.0 455.3 134.7 455.4 C135.4 455.5 136.4 454.4 137.2 454.3 C138.0 454.2 138.8 455.2 139.7 454.9 C140.6 454.6 141.7 453.0 142.8 452.4 C144.0 451.8 145.1 451.6 146.6 451.4 C148.1 451.2 149.6 451.5 151.7 451.1 C153.8 450.7 156.2 450.6 158.9 448.9 C161.6 447.2 164.6 443.5 167.9 441.0 C171.2 438.5 175.4 436.6 178.7 433.9 C182.0 431.2 184.9 428.2 187.6 424.9 C190.3 421.6 191.8 417.4 194.8 414.1 C197.8 410.8 202.0 407.3 205.6 405.1 C209.2 402.9 212.8 402.0 216.4 400.8 C220.0 399.6 223.9 398.4 227.1 398.0 C230.3 397.6 233.1 398.4 235.4 398.3 C237.7 398.2 239.2 397.4 240.8 397.5 C242.4 397.6 243.0 397.5 244.8 398.9 C246.6 400.2 249.0 403.1 251.5 405.6 C254.0 408.1 256.9 411.2 259.6 413.7 C262.3 416.2 264.6 417.5 267.7 420.4 C270.8 423.3 275.4 428.9 278.5 431.2 C281.6 433.4 283.5 432.1 286.6 433.9 C289.7 435.7 293.7 439.7 297.3 441.9 C300.9 444.1 304.5 445.5 308.1 447.3 C311.7 449.1 314.9 450.8 318.9 452.7 C322.9 454.6 328.3 456.7 332.3 458.6 C336.3 460.5 340.4 463.0 343.1 464.0 C345.8 465.0 346.2 465.2 348.5 464.8 C350.8 464.4 353.5 461.9 356.6 461.6 C359.8 461.3 364.3 462.2 367.4 462.9 C370.5 463.6 373.4 465.1 375.4 465.6 C377.4 466.2 377.1 465.4 379.3 466.2 C381.5 466.9 385.6 469.9 388.7 470.1 C391.8 470.3 394.9 467.8 398.0 467.3 C401.1 466.8 403.8 467.5 407.3 467.3 C410.8 467.1 415.5 465.9 419.0 466.2 C422.5 466.5 425.4 468.3 428.3 469.2 C431.2 470.1 433.8 471.8 436.5 471.5 C439.2 471.2 441.8 468.4 444.7 467.3 C447.6 466.2 450.9 465.9 454.0 465.0 C457.1 464.1 460.2 462.5 463.3 462.2 C466.4 461.9 469.6 463.3 472.7 463.1 C475.8 462.9 479.3 461.5 482.0 460.8 C484.7 460.1 486.7 458.8 489.0 458.7 C491.3 458.6 494.8 460.0 496.0 460.3" fill="none" stroke="#336EB4" stroke-width="2.6" stroke-linecap="butt" stroke-linejoin="round" clip-path="url(#cB)"/>
<path d="M77.4 665.0 C77.8 661.2 78.8 650.4 79.5 642.3 C80.2 634.2 80.8 624.8 81.7 616.5 C82.6 608.2 83.8 600.7 84.9 592.8 C86.0 584.9 86.9 576.3 88.2 569.1 C89.5 561.9 91.1 556.5 92.5 549.7 C93.9 542.9 95.2 534.7 96.8 528.2 C98.4 521.8 100.2 516.0 102.2 511.0 C104.2 506.0 106.4 501.3 108.6 498.0 C110.8 494.7 113.4 491.8 115.5 491.3 C117.6 490.8 119.5 493.2 121.2 494.9 C122.9 496.5 124.4 499.5 125.9 501.2 C127.4 502.9 128.6 503.9 130.0 505.0 C131.4 506.1 132.3 508.5 134.5 507.7 C136.7 506.9 140.2 502.9 143.1 500.2 C146.0 497.5 148.5 495.1 151.7 491.5 C154.9 487.9 158.9 481.7 162.5 478.7 C166.1 475.7 170.3 475.2 173.3 473.4 C176.3 471.6 178.0 470.1 180.4 468.0 C182.8 465.9 184.6 463.8 187.6 460.8 C190.6 457.8 194.8 452.7 198.4 450.0 C202.0 447.3 205.6 446.2 209.2 444.6 C212.8 443.0 216.9 441.0 219.9 440.3 C222.9 439.6 225.0 439.9 227.1 440.3 C229.2 440.7 230.0 441.8 232.7 442.5 C235.4 443.2 239.5 444.0 243.5 444.6 C247.5 445.2 252.9 445.1 256.9 446.0 C260.9 446.9 264.5 448.2 267.7 450.0 C270.9 451.8 273.1 454.8 275.8 456.8 C278.5 458.8 280.8 460.3 283.9 462.1 C287.0 463.9 290.6 465.9 294.6 467.5 C298.6 469.1 304.1 470.7 308.1 471.6 C312.2 472.5 315.3 471.6 318.9 472.9 C322.5 474.2 325.6 477.9 329.6 479.6 C333.6 481.3 339.1 482.5 343.1 483.2 C347.2 483.9 350.3 483.8 353.9 483.7 C357.5 483.6 362.0 483.5 364.7 482.9 C367.4 482.3 367.0 480.9 370.0 480.2 C373.0 479.5 379.7 479.0 382.8 478.5 C385.9 478.0 385.8 477.0 388.7 477.1 C391.6 477.2 396.4 477.9 400.3 479.0 C404.2 480.1 408.9 482.7 412.0 483.7 C415.1 484.7 415.9 485.4 419.0 484.8 C422.1 484.2 427.0 481.3 430.7 480.2 C434.4 479.1 438.5 478.5 441.2 478.3 C443.9 478.1 444.1 477.8 447.0 479.0 C449.9 480.2 455.8 484.1 458.7 485.3 C461.6 486.6 461.8 487.2 464.5 486.5 C467.2 485.8 472.3 482.3 475.0 480.9 C477.7 479.4 478.0 478.0 480.9 477.8 C483.8 477.6 489.8 478.6 492.5 479.5 C495.2 480.4 496.4 482.6 497.2 483.2" fill="none" stroke="#C8282D" stroke-width="3.2" stroke-linecap="round" stroke-linejoin="round" stroke-dasharray="0 6.35" clip-path="url(#cB)"/>
<path d="M76.3 664.0 C76.8 659.7 78.4 647.0 79.5 638.0 C80.6 629.0 81.7 620.0 82.8 610.0 C83.9 600.0 84.9 587.4 86.0 577.7 C87.1 568.0 88.0 559.1 89.2 551.9 C90.5 544.7 92.0 540.2 93.5 534.6 C95.0 529.0 96.3 523.0 97.9 518.5 C99.5 514.0 101.1 509.9 103.2 507.5 C105.3 505.1 108.1 504.5 110.4 504.0 C112.7 503.5 115.2 504.1 117.2 504.5 C119.2 504.9 120.8 505.2 122.6 506.6 C124.4 508.0 126.0 511.1 128.0 513.1 C130.0 515.1 131.8 517.4 134.5 518.5 C137.2 519.6 140.6 520.5 144.2 520.0 C147.8 519.5 152.8 517.2 156.0 515.2 C159.2 513.2 160.1 510.8 163.6 507.7 C167.1 504.6 172.9 500.6 176.9 496.7 C180.9 492.8 184.0 488.0 187.6 484.1 C191.2 480.2 194.8 476.7 198.4 473.4 C202.0 470.1 205.6 466.9 209.2 464.4 C212.8 461.9 216.4 460.0 219.9 458.3 C223.4 456.6 227.0 455.4 230.0 454.1 C233.0 452.8 235.2 451.3 238.1 450.6 C241.0 449.9 243.9 449.6 247.5 450.0 C251.1 450.4 255.3 451.3 259.6 452.7 C263.9 454.1 269.1 456.5 273.1 458.1 C277.2 459.7 280.3 461.1 283.9 462.1 C287.5 463.1 291.0 463.2 294.6 464.0 C298.2 464.8 301.3 466.1 305.4 466.7 C309.4 467.3 313.5 467.0 318.9 467.5 C324.3 468.0 332.3 469.3 337.7 469.7 C343.1 470.1 346.2 469.9 351.2 469.7 C356.1 469.5 362.7 468.5 367.4 468.3 C372.1 468.1 376.1 468.3 379.3 468.5 C382.5 468.7 383.2 469.0 386.3 469.7 C389.4 470.4 393.7 472.2 398.0 472.5 C402.3 472.8 408.1 472.3 412.0 471.5 C415.9 470.7 418.2 468.7 421.3 467.8 C424.4 466.9 427.0 466.8 430.7 466.2 C434.4 465.6 439.6 464.1 443.5 464.5 C447.4 464.9 450.7 467.6 454.0 468.5 C457.3 469.4 459.8 469.5 463.3 469.7 C466.8 469.9 471.1 470.1 475.0 469.7 C478.9 469.3 483.2 467.8 486.7 467.3 C490.2 466.9 494.4 467.1 496.0 467.0" fill="none" stroke="#87B43C" stroke-width="3.0" stroke-linecap="butt" stroke-linejoin="round" stroke-dasharray="24 10 3 10" clip-path="url(#cB)"/>
<path d="M73.2 1023.0 C73.3 1022.6 73.4 1025.5 73.9 1020.8 C74.4 1016.1 75.2 1003.9 76.0 994.9 C76.8 985.9 77.6 976.9 78.6 966.9 C79.6 956.9 80.8 945.4 81.9 934.6 C83.0 923.8 84.1 913.1 85.1 902.3 C86.1 891.5 87.0 878.7 87.9 870.0 C88.8 861.3 90.0 855.0 90.7 850.0 C91.4 845.0 91.4 843.8 91.9 840.3 C92.4 836.8 93.2 831.9 93.8 829.0 C94.4 826.1 95.0 824.6 95.7 822.7 C96.4 820.8 97.4 819.8 98.2 817.6 C99.0 815.4 100.0 811.3 100.7 809.5 C101.4 807.7 101.9 807.6 102.6 807.0 C103.3 806.4 104.4 806.7 105.1 806.1 C105.8 805.5 106.3 804.2 107.0 803.6 C107.7 803.0 108.8 802.4 109.5 802.3 C110.2 802.2 110.7 802.7 111.4 803.2 C112.1 803.7 113.1 804.7 113.9 805.1 C114.7 805.5 115.6 805.8 116.4 805.7 C117.2 805.6 118.2 804.8 119.0 804.5 C119.8 804.2 120.7 804.0 121.5 804.1 C122.3 804.2 123.0 804.6 124.0 805.3 C125.0 806.0 126.8 807.5 127.8 808.2 C128.8 808.9 129.5 809.2 130.3 809.5 C131.1 809.8 132.0 809.6 132.8 810.1 C133.6 810.6 134.5 812.2 135.3 812.4 C136.1 812.6 137.0 811.2 137.8 811.1 C138.6 811.0 139.5 812.3 140.3 812.0 C141.1 811.7 141.8 810.1 142.8 809.5 C143.9 808.9 144.8 808.9 146.6 808.6 C148.3 808.3 151.0 808.2 153.3 807.5 C155.6 806.8 158.1 806.0 160.5 804.6 C162.9 803.2 164.7 801.0 167.7 799.2 C170.7 797.4 175.4 796.0 178.4 793.9 C181.4 791.8 183.2 789.7 185.6 786.7 C188.0 783.7 190.4 779.2 192.8 775.9 C195.2 772.6 197.0 769.6 200.0 766.9 C203.0 764.2 207.2 761.5 210.8 759.7 C214.4 757.9 217.9 757.0 221.5 756.2 C225.1 755.4 229.5 755.5 232.3 755.1 C235.1 754.7 235.8 754.0 238.1 754.0 C240.4 754.0 244.0 753.8 246.2 754.8 C248.4 755.8 249.3 758.0 251.5 760.2 C253.7 762.5 256.9 766.0 259.6 768.3 C262.3 770.5 265.0 771.5 267.7 773.7 C270.4 775.9 273.3 779.3 275.8 781.7 C278.3 784.1 280.5 786.7 282.5 787.9 C284.5 789.1 285.4 787.8 287.9 789.0 C290.4 790.2 293.9 793.1 297.3 795.2 C300.7 797.3 304.5 799.6 308.1 801.4 C311.7 803.2 315.3 804.3 318.9 806.0 C322.5 807.7 326.0 809.6 329.6 811.4 C333.2 813.2 337.2 815.1 340.4 816.8 C343.5 818.4 346.2 820.6 348.5 821.3 C350.8 822.0 351.6 821.2 353.9 820.8 C356.1 820.3 358.9 818.7 362.0 818.6 C365.1 818.5 369.8 819.8 372.7 820.3 C375.6 820.8 377.3 821.0 379.7 821.5 C382.1 822.0 384.8 822.5 387.0 823.4 C389.2 824.3 390.6 826.7 393.0 826.8 C395.4 826.9 398.5 824.3 401.5 823.9 C404.5 823.5 407.8 824.6 411.2 824.4 C414.6 824.2 418.9 822.6 422.1 822.7 C425.3 822.8 427.6 824.2 430.6 825.1 C433.6 826.0 437.5 828.0 440.3 828.0 C443.1 828.0 444.4 826.0 447.6 825.1 C450.8 824.2 456.1 823.6 459.7 822.7 C463.3 821.8 466.2 819.9 469.4 819.6 C472.6 819.3 475.9 821.3 479.1 821.0 C482.3 820.7 486.2 818.8 488.8 817.9 C491.4 817.0 492.7 815.4 494.8 815.4 C496.9 815.4 500.1 817.5 501.2 817.9" fill="none" stroke="#336EB4" stroke-width="2.6" stroke-linecap="butt" stroke-linejoin="round" clip-path="url(#cC)"/>
<path d="M74.3 1022.0 C74.6 1019.6 75.3 1013.1 76.0 1007.9 C76.7 1002.7 77.4 996.4 78.6 990.6 C79.8 984.9 81.5 978.4 82.9 973.4 C84.3 968.4 85.8 964.8 87.2 960.5 C88.6 956.2 89.7 951.9 91.5 947.6 C93.3 943.3 95.8 939.2 98.0 934.6 C100.2 930.0 102.5 924.8 104.5 920.0 C106.5 915.2 109.0 909.2 110.3 905.9 C111.6 902.6 111.6 902.2 112.6 900.3 C113.5 898.4 115.0 896.5 116.0 894.6 C117.0 892.7 117.6 890.6 118.3 888.6 C119.0 886.6 119.7 884.7 120.3 882.7 C120.9 880.7 121.4 878.5 122.0 876.4 C122.6 874.3 123.3 872.4 124.0 870.4 C124.7 868.4 125.5 866.5 126.2 864.5 C126.9 862.5 127.3 860.3 128.2 858.4 C129.1 856.5 130.7 854.9 131.7 853.1 C132.7 851.3 132.8 849.2 134.0 847.6 C135.2 846.0 137.3 845.0 138.7 843.4 C140.1 841.8 141.0 839.6 142.2 837.8 C143.3 836.0 144.3 834.2 145.6 832.7 C146.8 831.2 147.2 831.7 149.7 829.0 C152.2 826.3 156.9 819.7 160.5 816.5 C164.1 813.3 167.1 812.1 171.3 810.0 C175.5 807.9 180.8 805.1 185.6 803.9 C190.4 802.7 195.8 803.3 200.0 802.8 C204.2 802.3 207.2 801.7 210.8 801.0 C214.4 800.3 218.3 798.4 221.5 798.5 C224.7 798.6 226.8 800.0 230.0 801.5 C233.2 803.0 237.2 805.5 240.8 807.3 C244.4 809.1 247.9 810.4 251.5 812.2 C255.1 814.0 258.7 816.5 262.3 818.1 C265.9 819.8 269.5 820.3 273.1 822.1 C276.7 823.9 280.3 826.9 283.9 828.9 C287.5 830.9 290.6 833.2 294.6 834.3 C298.6 835.4 304.1 834.5 308.1 835.6 C312.2 836.7 315.3 839.6 318.9 841.0 C322.5 842.4 326.0 843.2 329.6 843.7 C333.2 844.2 336.3 843.4 340.4 843.7 C344.4 844.1 349.8 846.0 353.9 845.8 C357.9 845.6 362.0 843.2 364.7 842.3 C367.4 841.4 367.7 840.8 370.0 840.4 C372.3 840.0 376.1 839.4 378.5 839.7 C380.9 840.0 382.5 841.4 384.5 842.1 C386.5 842.8 388.6 843.5 390.6 843.8 C392.6 844.1 394.9 844.4 396.7 843.8 C398.5 843.2 398.9 841.1 401.5 840.4 C404.1 839.7 409.6 839.5 412.4 839.7 C415.2 839.9 415.3 841.1 418.5 841.4 C421.7 841.7 427.8 841.0 431.8 841.4 C435.8 841.8 440.1 843.1 442.7 843.8 C445.3 844.5 445.8 845.0 447.6 845.7 C449.4 846.4 452.0 848.3 453.6 848.2 C455.2 848.1 455.7 846.2 457.3 845.3 C458.9 844.4 461.3 843.3 463.3 842.8 C465.3 842.3 467.4 842.4 469.4 842.1 C471.4 841.8 472.6 841.3 475.4 840.9 C478.2 840.5 482.4 840.0 486.3 839.7 C490.2 839.4 496.5 839.1 498.5 839.0" fill="none" stroke="#C8282D" stroke-width="3.2" stroke-linecap="round" stroke-linejoin="round" stroke-dasharray="0 6.35" clip-path="url(#cC)"/>
<path d="M71.1 1017.6 C71.4 1014.5 72.3 1004.9 73.2 999.3 C74.1 993.7 75.2 990.0 76.5 984.2 C77.8 978.5 79.4 970.4 80.8 964.8 C82.2 959.2 83.5 955.3 85.1 950.8 C86.7 946.3 88.5 942.0 90.5 937.9 C92.5 933.8 94.6 929.5 96.9 926.0 C99.2 922.5 102.1 919.7 104.5 917.0 C106.9 914.3 108.7 912.6 111.3 910.0 C113.9 907.4 117.2 904.3 119.9 901.3 C122.6 898.3 125.2 895.1 127.7 892.1 C130.2 889.1 132.2 885.9 134.6 883.0 C137.0 880.1 139.4 877.3 142.1 874.5 C144.8 871.7 147.8 868.8 150.7 866.0 C153.6 863.2 156.9 860.1 159.7 857.5 C162.5 854.9 164.6 853.0 167.7 850.5 C170.8 848.0 174.8 845.1 178.4 842.3 C182.0 839.4 185.6 836.1 189.2 833.4 C192.8 830.7 196.4 828.5 200.0 826.2 C203.6 823.9 207.2 821.0 210.8 819.5 C214.4 818.0 217.9 817.6 221.5 817.2 C225.1 816.8 228.6 817.0 232.3 817.2 C236.0 817.4 239.4 818.2 243.5 818.6 C247.6 819.0 252.4 819.0 256.9 819.4 C261.4 819.8 265.9 820.3 270.4 821.3 C274.9 822.3 279.4 824.3 283.9 825.6 C288.4 826.9 293.3 827.9 297.3 828.9 C301.3 829.9 304.1 830.8 308.1 831.6 C312.2 832.4 317.1 833.4 321.6 833.7 C326.1 834.1 331.0 833.8 335.0 833.7 C339.0 833.6 342.2 832.9 345.8 832.9 C349.4 832.9 353.0 833.8 356.6 833.7 C360.2 833.6 363.5 832.4 367.4 832.4 C371.2 832.4 375.4 833.7 379.7 833.6 C384.0 833.5 389.4 831.6 393.0 831.7 C396.6 831.8 397.9 833.6 401.5 834.1 C405.1 834.6 410.6 835.0 414.8 834.8 C419.1 834.6 423.1 833.2 427.0 833.1 C430.9 833.0 434.5 834.2 437.9 834.4 C441.3 834.6 443.8 834.3 447.6 834.4 C451.4 834.5 456.9 834.3 460.9 834.8 C464.9 835.3 468.4 837.0 471.8 837.3 C475.2 837.6 477.9 837.1 481.5 836.5 C485.1 835.9 490.7 834.2 493.6 833.6 C496.5 833.0 498.1 833.1 499.0 833.0" fill="none" stroke="#87B43C" stroke-width="3.0" stroke-linecap="butt" stroke-linejoin="round" stroke-dasharray="24 10 3 10" clip-path="url(#cC)"/>
<line x1="434.2" y1="107.4" x2="478.3" y2="107.4" stroke="#2A5FA0" stroke-width="2.5" stroke-linecap="butt"/>
<text x="481.5" y="113.0" text-anchor="start" font-size="14" textLength="29.2" lengthAdjust="spacingAndGlyphs" fill="#262626" stroke="#262626" stroke-width="0.15">HSA</text>
<line x1="434.2" y1="139.0" x2="478.3" y2="139.0" stroke="#A82428" stroke-width="3.0" stroke-linecap="round" stroke-dasharray="0 6.4"/>
<text x="481.5" y="144.6" text-anchor="start" font-size="14" textLength="77.0" lengthAdjust="spacingAndGlyphs" fill="#262626" stroke="#262626" stroke-width="0.15">HSA-4 (1:1)</text>
<line x1="434.2" y1="170.5" x2="478.3" y2="170.5" stroke="#789B2A" stroke-width="2.5" stroke-linecap="butt" stroke-dasharray="7 2.6"/>
<text x="481.5" y="176.1" text-anchor="start" font-size="14" textLength="77.0" lengthAdjust="spacingAndGlyphs" fill="#262626" stroke="#262626" stroke-width="0.15">HSA-4 (1:2)</text>
<line x1="434.2" y1="202.1" x2="476.5" y2="202.1" stroke="#5F4196" stroke-width="2.5" stroke-linecap="butt" stroke-dasharray="9 7.6 2.4 7.4"/>
<text x="481.5" y="207.7" text-anchor="start" font-size="14" textLength="77.0" lengthAdjust="spacingAndGlyphs" fill="#262626" stroke="#262626" stroke-width="0.15">HSA-4 (1:3)</text>
<line x1="434.2" y1="233.6" x2="478.3" y2="233.6" stroke="#2387A5" stroke-width="2.5" stroke-linecap="butt" stroke-dasharray="19 7.5"/>
<text x="481.5" y="239.2" text-anchor="start" font-size="14" textLength="77.0" lengthAdjust="spacingAndGlyphs" fill="#262626" stroke="#262626" stroke-width="0.15">HSA-4 (1:4)</text>
<line x1="434.2" y1="265.1" x2="478.3" y2="265.1" stroke="#DC731E" stroke-width="2.5" stroke-linecap="butt" stroke-dasharray="19 7.5 2.5 7.5"/>
<text x="481.5" y="270.8" text-anchor="start" font-size="14" textLength="77.0" lengthAdjust="spacingAndGlyphs" fill="#262626" stroke="#262626" stroke-width="0.15">HSA-4 (1:5)</text>
<line x1="434.2" y1="296.7" x2="478.3" y2="296.7" stroke="#7896CD" stroke-width="2.5" stroke-linecap="butt" stroke-dasharray="19 7.5 2.5 7.5 2.5 7.5"/>
<text x="481.5" y="302.3" text-anchor="start" font-size="14" textLength="77.0" lengthAdjust="spacingAndGlyphs" fill="#262626" stroke="#262626" stroke-width="0.15">HSA-6 (1:6)</text>
<line x1="243.5" y1="537.1" x2="287.6" y2="537.1" stroke="#336EB4" stroke-width="2.6" stroke-linecap="butt"/>
<text x="290.1" y="542.3" text-anchor="start" font-size="14" textLength="76.5" lengthAdjust="spacingAndGlyphs" fill="#262626" stroke="#262626" stroke-width="0.15">HSA-4 (1:6)</text>
<line x1="243.5" y1="575.9" x2="287.6" y2="575.9" stroke="#C8282D" stroke-width="3.2" stroke-linecap="round" stroke-dasharray="0 6.35"/>
<text x="290.1" y="581.1" text-anchor="start" font-size="14" textLength="156.6" lengthAdjust="spacingAndGlyphs" fill="#262626" stroke="#262626" stroke-width="0.15">HSA-4 + citric acid (1 h)</text>
<line x1="243.5" y1="614.7" x2="287.6" y2="614.7" stroke="#87B43C" stroke-width="3.0" stroke-linecap="butt" stroke-dasharray="24 10 3 10"/>
<text x="290.1" y="619.9" text-anchor="start" font-size="14" textLength="164.7" lengthAdjust="spacingAndGlyphs" fill="#262626" stroke="#262626" stroke-width="0.15">HSA-4 + citric acid (20 h)</text>
<line x1="239.5" y1="909.2" x2="282.5" y2="909.2" stroke="#336EB4" stroke-width="2.6" stroke-linecap="butt"/>
<text x="284.9" y="915.4" text-anchor="start" font-size="14" textLength="77.8" lengthAdjust="spacingAndGlyphs" fill="#262626" stroke="#262626" stroke-width="0.15">HSA-4 (1:6)</text>
<line x1="239.5" y1="947.8" x2="282.5" y2="947.8" stroke="#C8282D" stroke-width="3.2" stroke-linecap="round" stroke-dasharray="0 6.35"/>
<text x="286.7" y="954.0" text-anchor="start" font-size="14" textLength="113.6" lengthAdjust="spacingAndGlyphs" fill="#262626" stroke="#262626" stroke-width="0.15">pH 4.00 after 1 h</text>
<line x1="239.5" y1="986.4" x2="282.5" y2="986.4" stroke="#87B43C" stroke-width="3.0" stroke-linecap="butt" stroke-dasharray="24 10 3 10"/>
<text x="286.7" y="992.6" text-anchor="start" font-size="14" textLength="122.4" lengthAdjust="spacingAndGlyphs" fill="#262626" stroke="#262626" stroke-width="0.15">pH 4.00 after 20 h</text>
<text x="531.2" y="28.7" text-anchor="start" font-size="27.5" font-weight="bold" textLength="18.4" lengthAdjust="spacingAndGlyphs" fill="#000">A</text>
<text x="484.7" y="392.3" text-anchor="start" font-size="27.5" font-weight="bold" textLength="17.0" lengthAdjust="spacingAndGlyphs" fill="#000">B</text>
<text x="493.2" y="745.2" text-anchor="start" font-size="27.5" font-weight="bold" textLength="16.8" lengthAdjust="spacingAndGlyphs" fill="#000">C</text>
</svg>
</body></html>
